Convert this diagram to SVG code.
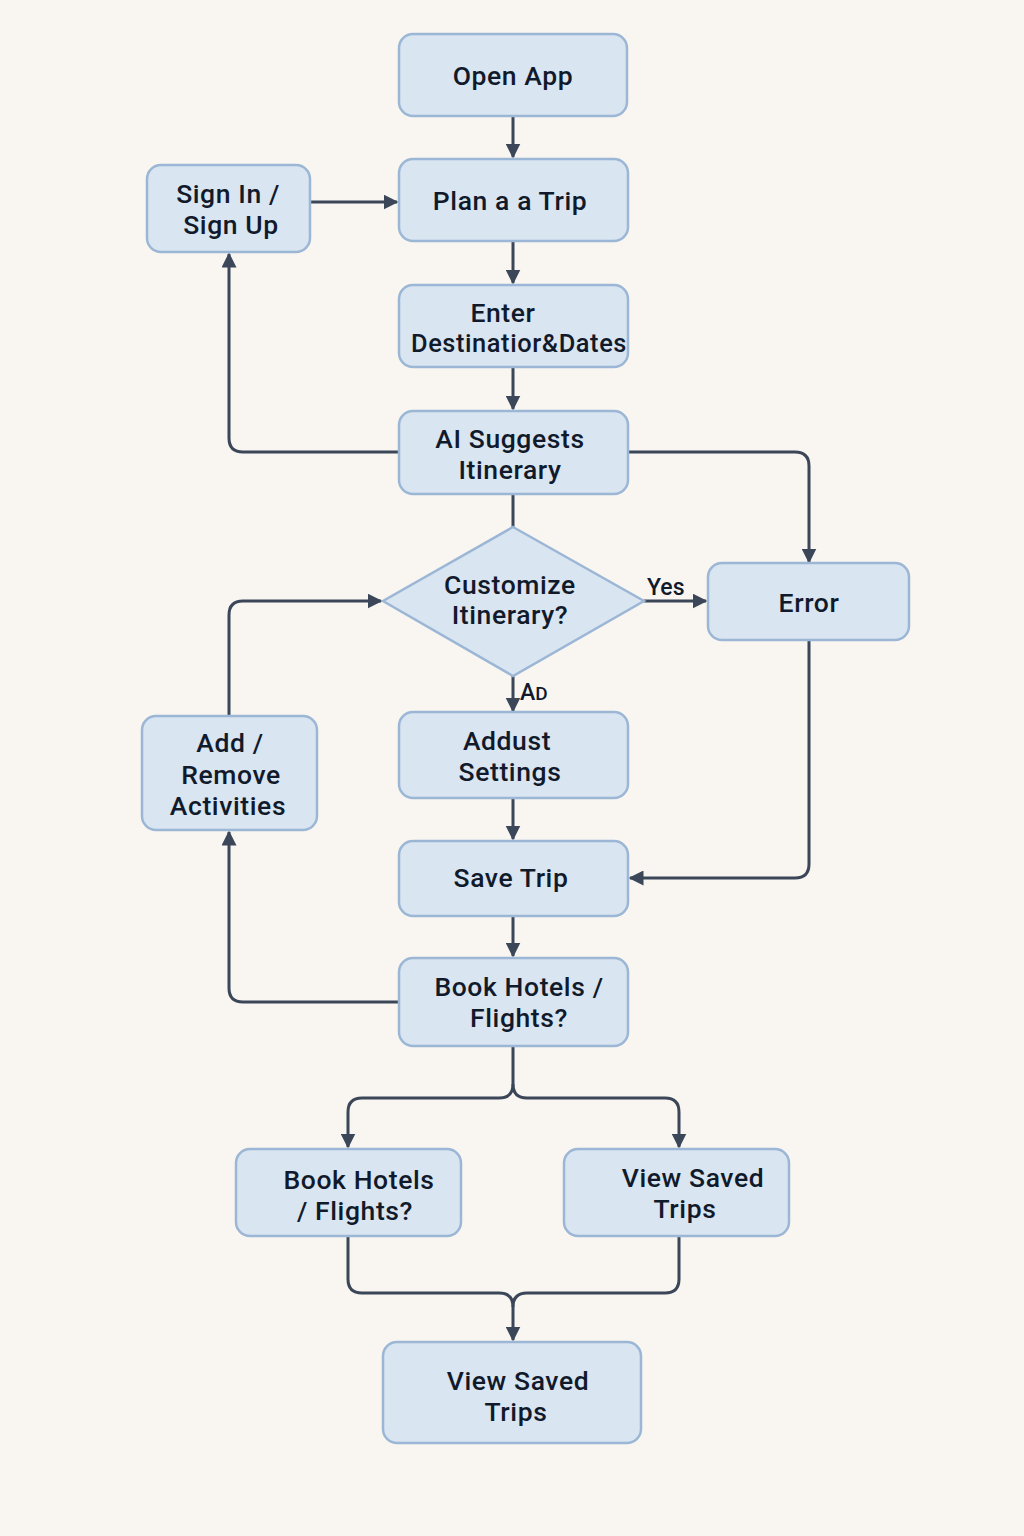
<svg xmlns="http://www.w3.org/2000/svg" width="1024" height="1536" viewBox="0 0 1024 1536">
<defs>
<style>
.node{fill:#d9e5f1;stroke:#9cb7d5;stroke-width:2.5}
.t{font-family:Roboto,"Noto Sans","DejaVu Sans",sans-serif;font-size:26.5px;font-weight:500;letter-spacing:0.6px;fill:#111a2b;text-anchor:middle}
.lbl{font-family:Roboto,"Noto Sans","DejaVu Sans",sans-serif;font-size:23px;font-weight:500;fill:#111a2b}
.c{fill:none;stroke:#3b4758;stroke-width:3}
</style>
<marker id="ah" viewBox="0 0 10 10" refX="9" refY="5" markerWidth="5" markerHeight="5" orient="auto" markerUnits="strokeWidth">
<path d="M0,0 L10,5 L0,10 z" fill="#3b4758"/>
</marker>
</defs>
<rect width="1024" height="1536" fill="#f9f6f1"/>

<g id="connectors">
<path class="c" d="M513,116 V157" marker-end="url(#ah)"/>
<path class="c" d="M311,202 H397" marker-end="url(#ah)"/>
<path class="c" d="M513,241 V283" marker-end="url(#ah)"/>
<path class="c" d="M513,367 V409" marker-end="url(#ah)"/>
<path class="c" d="M399,452 H243 Q229,452 229,438 V254" marker-end="url(#ah)"/>
<path class="c" d="M629,452 H795 Q809,452 809,466 V562" marker-end="url(#ah)"/>
<path class="c" d="M513,494 V527"/>
<path class="c" d="M644,601 H706" marker-end="url(#ah)"/>
<path class="c" d="M513,676 V711" marker-end="url(#ah)"/>
<path class="c" d="M229,716 V615 Q229,601 243,601 H381" marker-end="url(#ah)"/>
<path class="c" d="M513,798 V839" marker-end="url(#ah)"/>
<path class="c" d="M809,641 V864 Q809,878 795,878 H630" marker-end="url(#ah)"/>
<path class="c" d="M513,916 V956" marker-end="url(#ah)"/>
<path class="c" d="M399,1002 H243 Q229,1002 229,988 V832" marker-end="url(#ah)"/>
<path class="c" d="M513,1046 V1084 Q513,1098 499,1098 H362 Q348,1098 348,1112 V1147" marker-end="url(#ah)"/>
<path class="c" d="M513,1084 Q513,1098 527,1098 H665 Q679,1098 679,1112 V1147" marker-end="url(#ah)"/>
<path class="c" d="M348,1237 V1279 Q348,1293 362,1293 H499 Q513,1293 513,1307 V1340" marker-end="url(#ah)"/>
<path class="c" d="M679,1237 V1279 Q679,1293 665,1293 H527 Q513,1293 513,1307"/>
<text class="lbl" x="647" y="595">Yes</text>
<text class="lbl" x="520" y="700">A<tspan font-size="19">D</tspan></text>
</g>

<g id="open-app">
<rect class="node" x="399" y="34" width="228" height="82" rx="14"/>
<text class="t" x="513" y="85">Open App</text>
</g>
<g id="plan-trip">
<rect class="node" x="399" y="159" width="229" height="82" rx="14"/>
<text class="t" x="510" y="210">Plan a a Trip</text>
</g>
<g id="sign-in">
<rect class="node" x="147" y="165" width="163" height="87" rx="14"/>
<text class="t" x="228" y="203">Sign In /</text>
<text class="t" x="231" y="234">Sign Up</text>
</g>
<g id="enter-destination">
<rect class="node" x="399" y="285" width="229" height="82" rx="14"/>
<text class="t" x="503" y="322">Enter</text>
<text class="t" x="519" y="352" textLength="216" lengthAdjust="spacingAndGlyphs">Destinatior&amp;Dates</text>
</g>
<g id="ai-suggests">
<rect class="node" x="399" y="411" width="229" height="83" rx="14"/>
<text class="t" x="510" y="448">AI Suggests</text>
<text class="t" x="510" y="479">Itinerary</text>
</g>
<g id="customize">
<polygon class="node" points="513,527 644,601 513,676 383,601"/>
<text class="t" x="510" y="594">Customize</text>
<text class="t" x="510" y="624">Itinerary?</text>
</g>
<g id="error">
<rect class="node" x="708" y="563" width="201" height="77" rx="14"/>
<text class="t" x="809" y="612">Error</text>
</g>
<g id="add-remove">
<rect class="node" x="142" y="716" width="175" height="114" rx="14"/>
<text class="t" x="230" y="752">Add /</text>
<text class="t" x="231" y="784">Remove</text>
<text class="t" x="228" y="815">Activities</text>
</g>
<g id="addust-settings">
<rect class="node" x="399" y="712" width="229" height="86" rx="14"/>
<text class="t" x="507" y="750">Addust</text>
<text class="t" x="510" y="781">Settings</text>
</g>
<g id="save-trip">
<rect class="node" x="399" y="841" width="229" height="75" rx="14"/>
<text class="t" x="511" y="887">Save Trip</text>
</g>
<g id="book-hotels">
<rect class="node" x="399" y="958" width="229" height="88" rx="14"/>
<text class="t" x="519" y="996">Book Hotels /</text>
<text class="t" x="519" y="1027">Flights?</text>
</g>
<g id="book-hotels-2">
<rect class="node" x="236" y="1149" width="225" height="87" rx="14"/>
<text class="t" x="359" y="1189">Book Hotels</text>
<text class="t" x="355" y="1220">/ Flights?</text>
</g>
<g id="view-saved-1">
<rect class="node" x="564" y="1149" width="225" height="87" rx="14"/>
<text class="t" x="693" y="1187">View Saved</text>
<text class="t" x="685" y="1218">Trips</text>
</g>
<g id="view-saved-2">
<rect class="node" x="383" y="1342" width="258" height="101" rx="14"/>
<text class="t" x="518" y="1390">View Saved</text>
<text class="t" x="516" y="1421">Trips</text>
</g>
</svg>
